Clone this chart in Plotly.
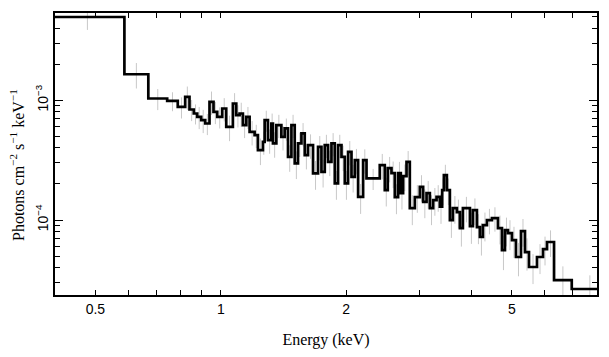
import plotly.graph_objects as go
import math

# Bin edges (keV) of the unfolded spectrum
edges = [0.39, 0.587, 0.670, 0.7436, 0.7884, 0.8214, 0.8412, 0.8614, 0.8778, 0.8974,
         0.9175, 0.9396, 0.9606, 0.9805, 1.0080, 1.0306, 1.0692, 1.0894, 1.1096, 1.1300,
         1.1515, 1.1727, 1.2056, 1.2279, 1.2624, 1.2743, 1.2978, 1.3224, 1.3342, 1.3595,
         1.3977, 1.4234, 1.4500, 1.4776, 1.5048, 1.5325, 1.5616, 1.5904, 1.6198, 1.6652,
         1.7119, 1.7444, 1.7766, 1.8093, 1.8437, 1.8777, 1.9123, 1.9486, 1.9845, 2.0211,
         2.0595, 2.0975, 2.1362, 2.1961, 2.2378, 2.4079, 2.4756, 2.5170, 2.5690, 2.6164,
         2.6647, 2.7049, 2.7395, 2.7916, 2.8430, 2.9228, 3.0048, 3.0602, 3.1184, 3.1759,
         3.2344, 3.2958, 3.3565, 3.3995, 3.4317, 3.4891, 3.5476, 3.6070, 3.6877, 3.7495,
         3.8123, 3.9631, 4.0295, 4.1197, 4.1887, 4.2588, 4.3541, 4.4763, 4.6274, 4.7310,
         4.8103, 4.8909, 5.000, 5.112, 5.2555, 5.373, 5.4935, 5.742, 5.936, 6.069,
         6.309, 6.958, 8.5]

# Flux per bin, in units of 1e-3 photons cm^-2 s^-1 keV^-1
flux_1e3 = [4.945, 1.647, 1.033, 0.9867, 0.8795, 1.0654, 0.8363, 0.7746, 0.7259, 0.6813,
            0.6394, 0.9679, 0.7990, 0.7259, 0.8527, 0.5991, 0.9386, 0.7499, 0.7746, 0.6190,
            0.7259, 0.5442, 0.5109, 0.3831, 0.4493, 0.6813, 0.4642, 0.6394, 0.4356, 0.6190,
            0.4944, 0.5810, 0.3368, 0.6190, 0.2969, 0.4356, 0.5280, 0.3481, 0.4217, 0.2449,
            0.4082, 0.2526, 0.4217, 0.3061, 0.4356, 0.2022, 0.4217, 0.3368, 0.2022, 0.3708,
            0.2295, 0.3162, 0.1563, 0.3162, 0.2226, 0.2873, 0.1778, 0.2712, 0.2464, 0.1554,
            0.2464, 0.1679, 0.2326, 0.3061, 0.1259, 0.1554, 0.1894, 0.1420, 0.1679, 0.1259,
            0.1468, 0.1563, 0.1291, 0.1778, 0.2371, 0.1778, 0.1000, 0.1259, 0.1166, 0.0858,
            0.1259, 0.0891, 0.1212, 0.0874, 0.0722, 0.0909, 0.1000, 0.1039, 0.0858, 0.0562,
            0.0825, 0.0779, 0.0681, 0.0492, 0.0810, 0.0541, 0.0406, 0.0492, 0.0573, 0.0656,
            0.0316, 0.0266]

# Relative 1-sigma errors per bin
rel_err = [0.22, 0.24, 0.20, 0.18, 0.20, 0.22, 0.20, 0.19, 0.21, 0.22,
           0.20, 0.22, 0.21, 0.20, 0.22, 0.24, 0.22, 0.21, 0.23, 0.22,
           0.21, 0.23, 0.22, 0.25, 0.22, 0.20, 0.23, 0.21, 0.24, 0.22,
           0.23, 0.21, 0.25, 0.22, 0.26, 0.23, 0.22, 0.24, 0.23, 0.27,
           0.23, 0.26, 0.22, 0.24, 0.22, 0.27, 0.22, 0.24, 0.27, 0.23,
           0.26, 0.24, 0.28, 0.23, 0.20, 0.24, 0.27, 0.24, 0.25, 0.28,
           0.24, 0.27, 0.25, 0.23, 0.28, 0.26, 0.25, 0.27, 0.26, 0.28,
           0.26, 0.25, 0.28, 0.25, 0.22, 0.25, 0.29, 0.26, 0.27, 0.30,
           0.24, 0.29, 0.25, 0.28, 0.30, 0.27, 0.24, 0.23, 0.27, 0.32,
           0.27, 0.28, 0.29, 0.31, 0.26, 0.30, 0.28, 0.28, 0.27, 0.25,
           0.30, 0.30]

x_major = [0.5, 1, 2, 5]
x_minor = [0.4, 0.6, 0.7, 0.8, 0.9, 3, 4, 6, 7, 8]
y_major = [1e-4, 1e-3]
y_major_text = ["10<sup>\u22124</sup>", "10<sup>\u22123</sup>"]
y_minor = [3e-5, 4e-5, 5e-5, 6e-5, 7e-5, 8e-5, 9e-5,
           2e-4, 3e-4, 4e-4, 5e-4, 6e-4, 7e-4, 8e-4, 9e-4,
           2e-3, 3e-3, 4e-3, 5e-3]
y_title = "Photons cm<sup>\u22122</sup> s<sup>\u22121</sup> keV<sup>\u22121</sup>"
x_title = "Energy (keV)"

flux = [v * 1e-3 for v in flux_1e3]
centers = [math.sqrt(edges[i] * edges[i + 1]) for i in range(len(flux))]
err = [f * r for f, r in zip(flux, rel_err)]

fig = go.Figure()
fig.add_trace(go.Scatter(
    x=centers, y=flux, mode="markers",
    marker=dict(size=1, color="rgba(0,0,0,0)"),
    error_y=dict(type="data", array=err, arrayminus=err, color="#c8c8c8",
                 thickness=1, width=0),
    showlegend=False, hoverinfo="skip"))
fig.add_trace(go.Scatter(
    x=edges, y=flux + [flux[-1]], mode="lines", line_shape="hv",
    line=dict(color="black", width=2.7), showlegend=False))

axis_common = dict(showline=True, linecolor="black", linewidth=1.6, mirror="allticks",
                   ticks="inside", tickcolor="black", tickwidth=1.3, showgrid=False,
                   zeroline=False, tickfont=dict(family="Liberation Sans", size=14, color="black"))

fig.update_xaxes(type="log", range=[math.log10(0.4), math.log10(8.0)],
                 tickmode="array", tickvals=x_major, ticktext=[str(v) for v in x_major],
                 ticklen=5,
                 minor=dict(tickmode="array", tickvals=x_minor, ticks="inside", ticklen=5,
                            tickcolor="black", tickwidth=1.3, showgrid=False),
                 title=dict(text=x_title, standoff=18,
                            font=dict(family="Liberation Serif", size=16, color="black")),
                 **axis_common)
fig.update_yaxes(type="log", range=[math.log10(2.37e-5), math.log10(5.34e-3)],
                 tickmode="array", tickvals=y_major, ticktext=y_major_text,
                 tickangle=-90, ticklen=8,
                 minor=dict(tickmode="array", tickvals=y_minor, ticks="inside", ticklen=5,
                            tickcolor="black", tickwidth=1.3, showgrid=False),
                 **axis_common)

# plot area spans 542 x 282 px; y title centred ~38 px left of the axis, slightly below mid-height
fig.add_annotation(text=y_title, textangle=-90, xref="paper", yref="paper",
                   x=-38 / 542, y=(282 - 152) / 282, xanchor="center", yanchor="middle",
                   showarrow=False,
                   font=dict(family="Liberation Serif", size=16, color="black"))

# the page adds an 8 px body margin, so the margins are shifted to compensate
fig.update_layout(width=609, height=357, margin=dict(l=47, r=20, t=5, b=70, autoexpand=False),
                  plot_bgcolor="white", paper_bgcolor="white")
fig.write_html("out.html")
